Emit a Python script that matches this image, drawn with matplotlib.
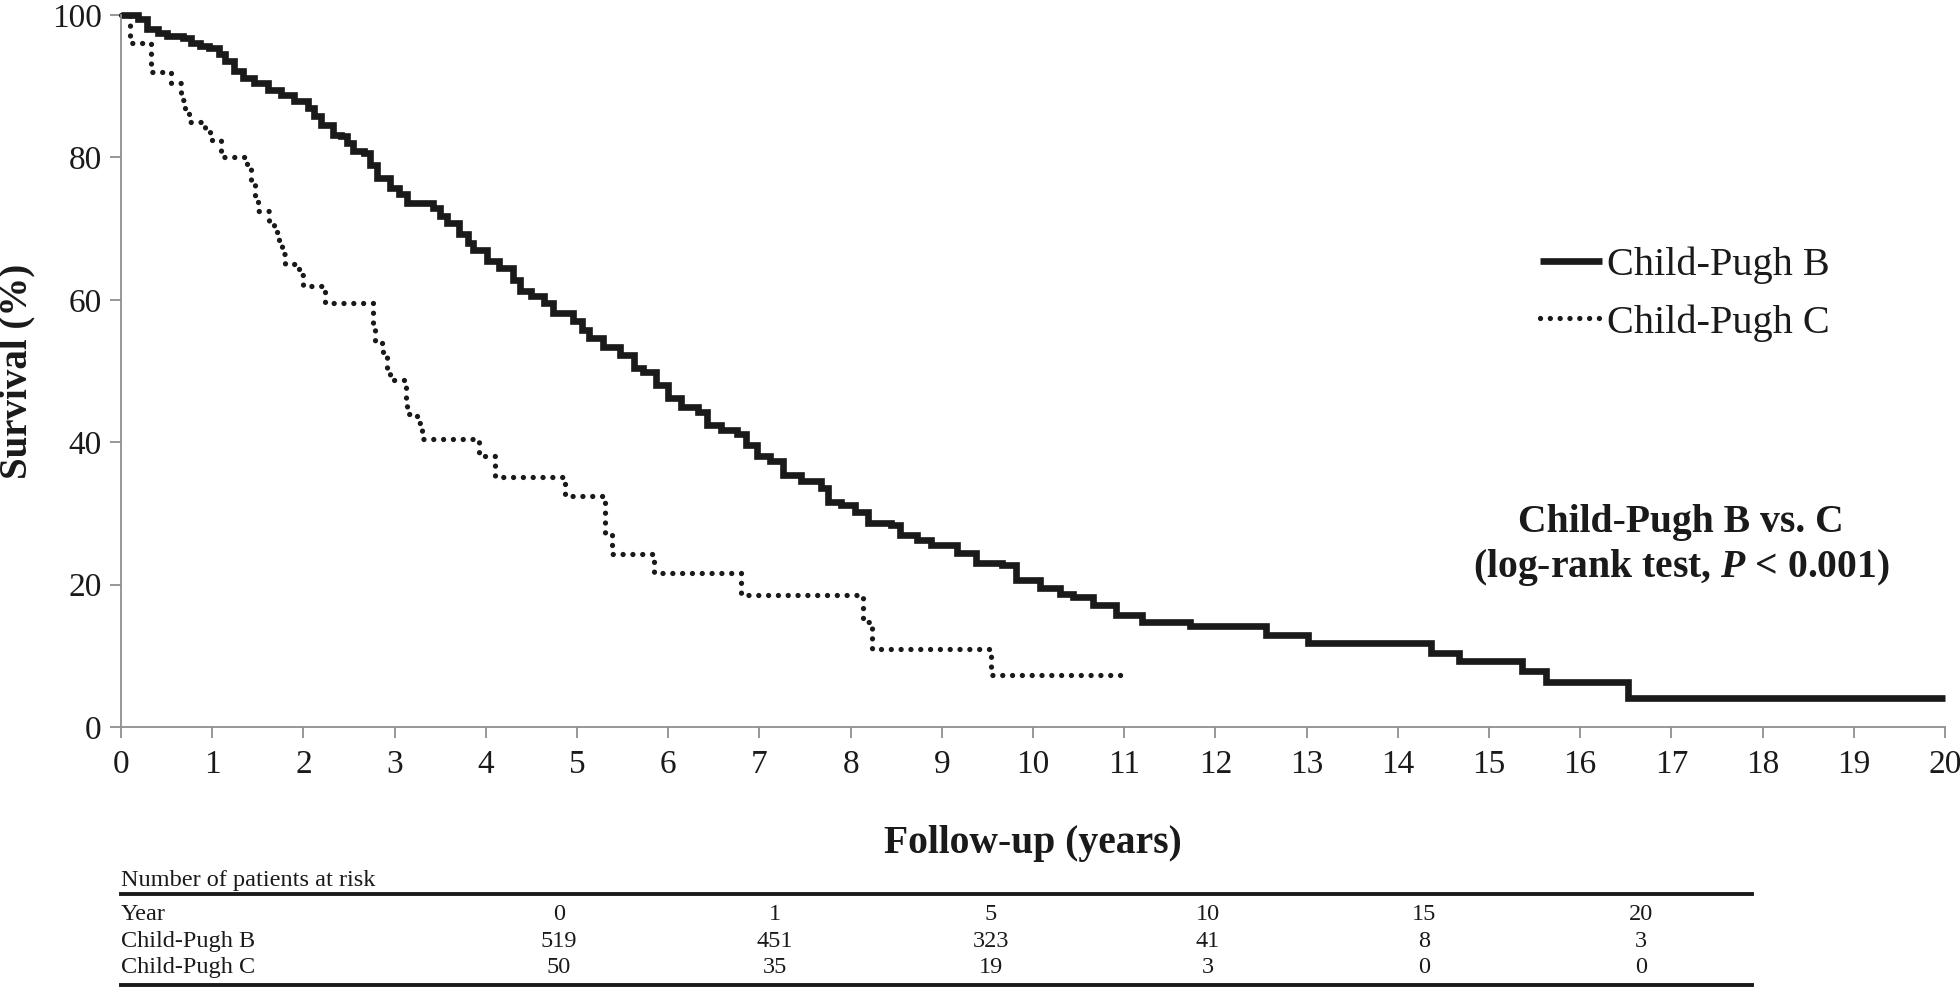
#!/usr/bin/env python3
"""
Kaplan-Meier survival by Child-Pugh class (B vs C) with number-at-risk table.
"""
import matplotlib
matplotlib.use('Agg')
import matplotlib.pyplot as plt
from matplotlib.lines import Line2D

plt.rcParams['font.family'] = ['Liberation Serif', 'DejaVu Serif']
plt.rcParams['mathtext.fontset'] = 'custom'
plt.rcParams['mathtext.rm'] = 'Liberation Serif:bold'
plt.rcParams['mathtext.it'] = 'Liberation Serif:bold:italic'

# Child-Pugh B: step times (years) and survival (%) after each step
time_b = [0, 0.19, 0.28, 0.41, 0.50, 0.68, 0.77, 0.87, 0.97, 1.07, 1.14, 1.24,
          1.34, 1.46, 1.61, 1.75, 1.90, 2.05, 2.12, 2.19, 2.32, 2.41, 2.48,
          2.54, 2.66, 2.73, 2.81, 2.95, 3.05, 3.14, 3.42, 3.50, 3.57, 3.71,
          3.80, 3.86, 4.01, 4.15, 4.30, 4.37, 4.50, 4.64, 4.74, 4.96, 5.05,
          5.13, 5.28, 5.47, 5.62, 5.72, 5.87, 6.00, 6.14, 6.33, 6.43, 6.58,
          6.75, 6.85, 6.97, 7.12, 7.26, 7.46, 7.68, 7.75, 7.90, 8.05, 8.19,
          8.44, 8.54, 8.73, 8.88, 9.17, 9.37, 9.66, 9.81, 10.08, 10.30, 10.44,
          10.66, 10.91, 11.20, 11.72, 12.55, 13.01, 14.36, 14.67, 15.36, 15.62,
          16.52, 20.0]
surv_b = [100, 99.5, 98.0, 97.5, 97.0, 96.8, 96.1, 95.6, 95.4, 94.5, 93.5, 92.1,
          91.2, 90.5, 89.5, 88.8, 87.9, 87.0, 85.8, 84.6, 83.2, 83.0, 82.0,
          80.9, 80.6, 79.0, 77.1, 75.7, 74.8, 73.6, 72.9, 71.8, 70.8, 69.2,
          68.0, 67.0, 65.4, 64.5, 62.8, 61.2, 60.5, 59.5, 58.1, 57.0, 55.8,
          54.6, 53.4, 52.3, 50.4, 49.9, 48.0, 46.2, 45.0, 44.3, 42.4, 41.7,
          41.2, 39.6, 38.0, 37.3, 35.4, 34.5, 33.5, 31.6, 31.2, 30.2, 28.6,
          28.4, 27.0, 26.3, 25.6, 24.4, 23.0, 22.8, 20.6, 19.5, 18.7, 18.3,
          17.1, 15.7, 14.8, 14.2, 12.9, 11.8, 10.4, 9.2, 7.8, 6.3,
          4.1, 4.1]

# Child-Pugh C
time_c = [0, 0.10, 0.33, 0.55, 0.66, 0.70, 0.75, 0.92, 0.98, 1.10, 1.38, 1.42,
          1.47, 1.50, 1.62, 1.68, 1.73, 1.77, 1.80, 1.95, 2.00, 2.24, 2.76,
          2.78, 2.87, 2.92, 2.95, 3.12, 3.14, 3.25, 3.30, 3.92, 4.10, 4.87,
          5.31, 5.38, 5.84, 6.80, 8.14, 8.23, 9.54, 11.0]
surv_c = [100, 96.0, 92.0, 90.5, 88.0, 86.5, 85.0, 83.5, 82.5, 80.0, 78.5, 76.5,
          74.5, 72.5, 70.8, 69.5, 68.0, 66.5, 65.0, 63.5, 62.0, 59.5, 56.8,
          53.9, 52.5, 50.4, 48.8, 46.0, 44.0, 42.7, 40.5, 38.0, 35.1, 32.4,
          27.0, 24.3, 21.6, 18.5, 14.8, 11.0, 7.3, 7.3]

# number-at-risk table
risk_years = ['0', '1', '5', '10', '15', '20']
risk_b = ['519', '451', '323', '41', '8', '3']
risk_c = ['50', '35', '19', '3', '0', '0']

W, H = 1960, 988
fig = plt.figure(figsize=(W / 100, H / 100), dpi=100)
ax = fig.add_axes([121 / W, 1 - 727 / H, 1824 / W, 712 / H])

AX_GREY = '#8f8f8f'
INK = '#1a1a1a'

ax.plot(time_b, surv_b, drawstyle='steps-post', color=INK, lw=4.8,
        solid_joinstyle='miter', solid_capstyle='butt', clip_on=False,
        label='Child-Pugh B')
ax.plot(time_c, surv_c, drawstyle='steps-post', color=INK, lw=3.8,
        linestyle=(0, (0.01, 1.85)), dash_capstyle='round', clip_on=False,
        label='Child-Pugh C')

ax.set_xlim(0, 20)
ax.set_ylim(0, 100)
ax.set_xticks(range(0, 21))
ax.set_yticks(range(0, 101, 20))
for s in ('top', 'right'):
    ax.spines[s].set_visible(False)
for s in ('left', 'bottom'):
    ax.spines[s].set_color(AX_GREY)
    ax.spines[s].set_linewidth(1.3)
ax.tick_params(axis='both', direction='out', length=8, width=1.3,
               color=AX_GREY, labelsize=24, labelcolor=INK)
ax.tick_params(axis='y', pad=6)
ax.tick_params(axis='x', pad=8)

ax.set_ylabel('Survival (%)', fontsize=28, fontweight='bold', color=INK)
ax.yaxis.set_label_coords(-0.047, 0.5)
ax.set_xlabel('Follow-up (years)', fontsize=28.5, fontweight='bold', color=INK)
ax.xaxis.set_label_coords(0.5, -0.138)

ax.legend(loc='center left', bbox_to_anchor=((1540 - 121) / 1824, (727 - 294) / 712),
          frameon=False, fontsize=29, handlelength=1.55, handletextpad=0.12,
          labelspacing=0.5, borderpad=0, borderaxespad=0, labelcolor=INK)

fig.text(1681 / W, 1 - 522 / H, 'Child-Pugh B vs. C', ha='center', va='center',
         fontsize=28.5, fontweight='bold', color=INK)
fig.text(1681 / W, 1 - 568 / H, '(log-rank test, $P$ < 0.001)', ha='center',
         va='center', fontsize=28.5, fontweight='bold', color=INK)

# number-at-risk table below the plot
x_left, x_right = 121, 1752
col_x = [559, 775, 991, 1208, 1424, 1641]
row_y = [914, 941, 967]
fs_tab = 17.5
fig.text(x_left / W, 1 - 880 / H, 'Number of patients at risk', ha='left',
         va='center', fontsize=fs_tab, color=INK)
for y, lab, vals in zip(row_y, ['Year', 'Child-Pugh B', 'Child-Pugh C'],
                        [risk_years, risk_b, risk_c]):
    fig.text(x_left / W, 1 - y / H, lab, ha='left', va='center',
             fontsize=fs_tab, color=INK)
    for x, v in zip(col_x, vals):
        fig.text(x / W, 1 - y / H, v, ha='center', va='center',
                 fontsize=fs_tab, color=INK)
for y in (894, 985):
    fig.add_artist(Line2D([x_left / W, x_right / W], [1 - y / H, 1 - y / H],
                          color=INK, lw=2.8, transform=fig.transFigure))

fig.savefig('out.png', dpi=100)
